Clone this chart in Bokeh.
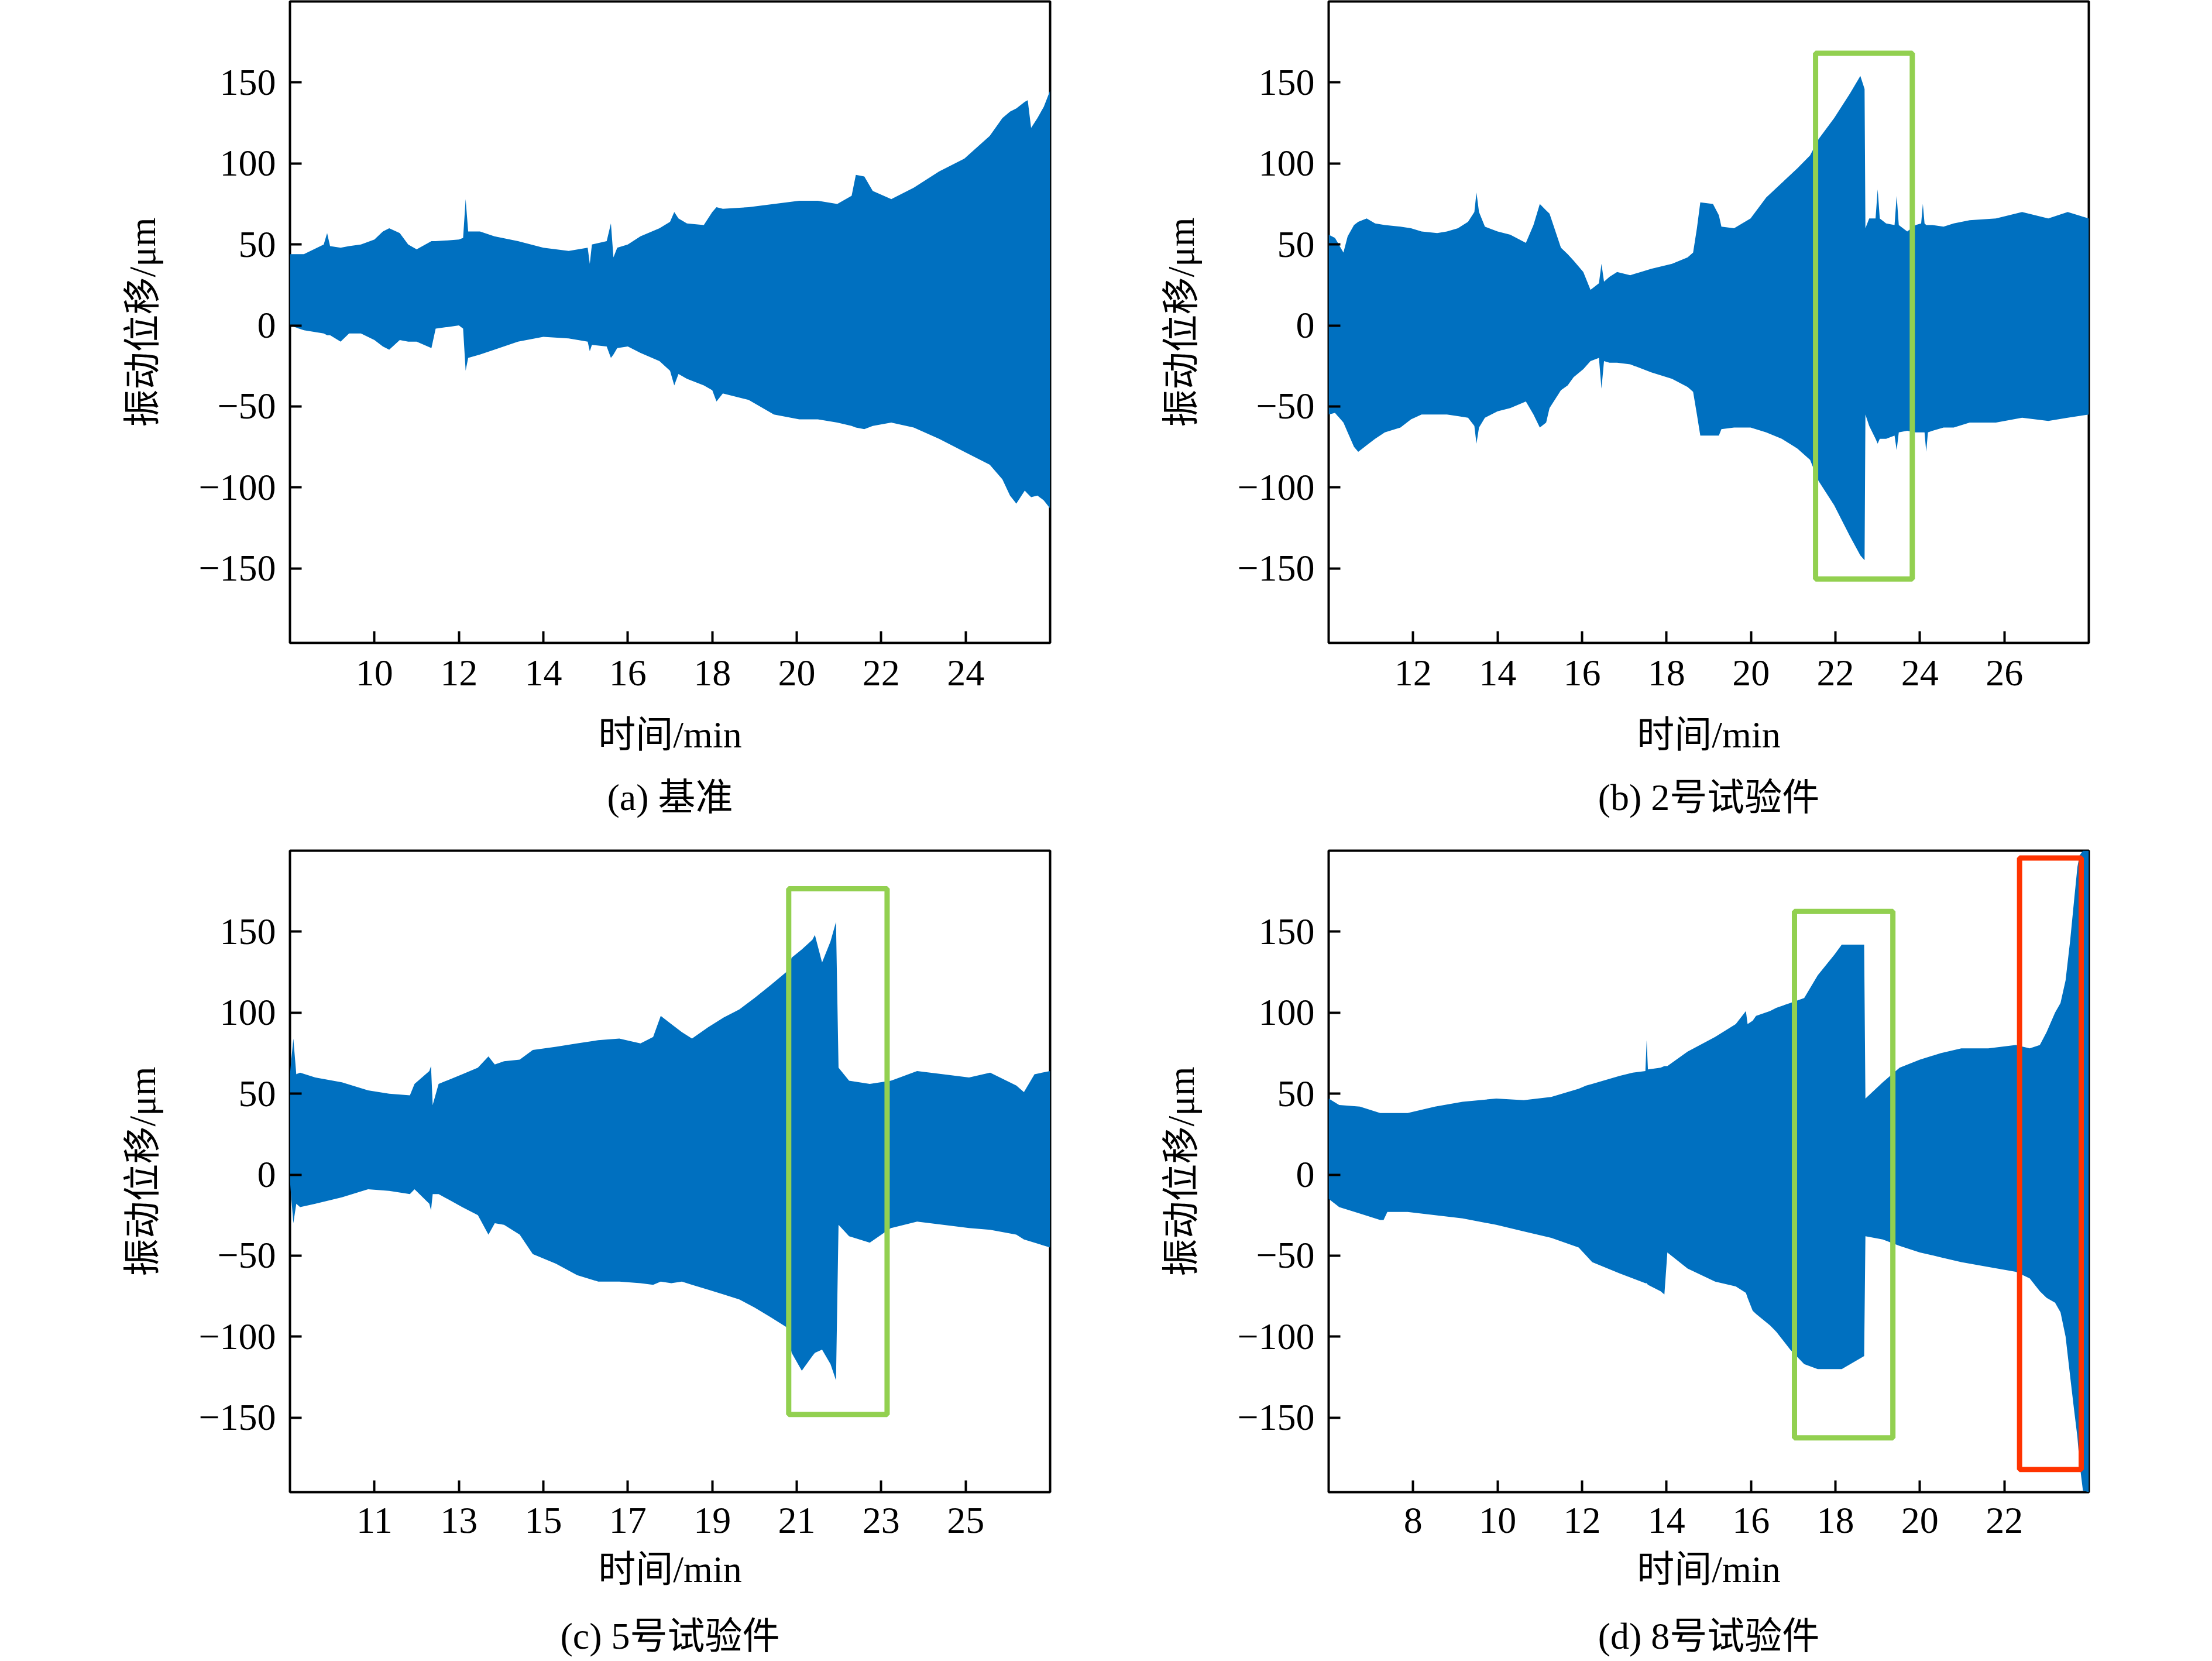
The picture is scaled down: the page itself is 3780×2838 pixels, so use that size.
from bokeh.plotting import figure
from bokeh.layouts import column, row
from bokeh.models import Range1d, FixedTicker
from bokeh.core.properties import value
from bokeh.embed import file_html
from bokeh.resources import INLINE

BLUE = "#0070C0"
GREEN = "#92D050"
RED = "#FF3300"
SERIF = "'Liberation Serif'"
MIXED = "'Liberation Serif', 'Noto Sans CJK SC'"
FS = "64px"

Y_TICKS = [-150, -100, -50, 0, 50, 100, 150]
Y_MIN, Y_MAX = -196, 200
X_LABEL = "时间/min"
Y_LABEL = "振动位移/μm"

# ---------------- (a) 基准 ----------------
A_T = [8.00, 8.33, 8.80, 8.88, 8.95, 9.20, 9.40, 9.68, 10.00, 10.20, 10.35, 10.60, 10.80, 11.00, 11.35, 11.45,
       12.00, 12.10, 12.16, 12.22, 12.50, 12.84, 13.40, 14.00, 14.60, 15.05, 15.10, 15.15, 15.50, 15.60, 15.66,
       15.75, 16.00, 16.30, 16.75, 17.00, 17.10, 17.20, 17.40, 17.80, 18.00, 18.10, 18.25, 18.86, 19.46, 20.06,
       20.50, 20.96, 21.30, 21.40, 21.60, 21.80, 22.24, 22.77, 23.37, 23.97, 24.57, 24.87, 25.05, 25.20, 25.40,
       25.47, 25.55, 25.70, 25.85, 26.00]
A_UP = [44, 44, 50, 57, 49, 48, 49, 50, 53, 58, 60, 57, 50, 47, 52, 52,
        53, 54, 78, 58, 58, 55, 52, 48, 46, 48, 38, 50, 52, 63, 42,
        48, 50, 55, 60, 64, 70, 66, 63, 62, 70, 73, 72, 73, 75, 77,
        77, 75, 80, 93, 92, 83, 78, 85, 95, 103, 117, 128, 132, 134, 138,
        139, 122, 128, 135, 145]
A_LO = [0, -3, -5, -6, -6, -10, -5, -5, -9, -13, -15, -9, -10, -10, -14, -2,
        0, -2, -28, -20, -18, -15, -10, -7, -8, -10, -16, -12, -13, -20, -18,
        -14, -13, -17, -22, -28, -37, -30, -33, -37, -40, -47, -42, -46, -55, -58,
        -58, -60, -62, -63, -64, -62, -60, -63, -70, -78, -86, -95, -105, -110, -102,
        -104, -106, -105, -108, -113]

# ---------------- (b) 2号试验件 ----------------
B_T = [10.00, 10.15, 10.35, 10.45, 10.60, 10.70, 10.90, 11.10, 11.33, 11.70, 11.95, 12.20, 12.57, 12.80, 13.06,
       13.30, 13.45, 13.50, 13.56, 13.70, 14.00, 14.30, 14.67, 14.85, 15.00, 15.15, 15.23, 15.50, 15.66, 15.80,
       16.03, 16.20, 16.40, 16.46, 16.52, 16.65, 16.83, 17.14, 17.64, 18.13, 18.50, 18.63, 18.72, 18.80, 19.10,
       19.24, 19.30, 19.60, 19.99, 20.36, 20.73, 21.10, 21.40, 21.60, 21.97, 22.34, 22.59, 22.69, 22.71, 22.80,
       22.95, 23.00, 23.05, 23.20, 23.40, 23.45, 23.50, 23.70, 23.90, 24.03, 24.07, 24.11, 24.15, 24.19, 24.30,
       24.56, 24.80, 25.18, 25.80, 26.42, 27.04, 27.50, 28.00]
B_UP = [56, 54, 45, 55, 62, 64, 66, 63, 62, 61, 60, 58, 57, 58, 60,
        64, 70, 82, 70, 61, 58, 56, 51, 62, 75, 71, 69, 48, 44, 40,
        33, 22, 26, 38, 27, 30, 33, 31, 35, 38, 42, 45, 60, 76, 75,
        68, 61, 60, 66, 79, 88, 97, 105, 115, 128, 143, 154, 146, 60, 66,
        66, 84, 66, 63, 62, 80, 62, 58, 62, 63, 75, 63, 62, 62, 62,
        61, 63, 65, 66, 70, 66, 70, 66]
B_LO = [-55, -54, -60, -66, -75, -78, -74, -70, -66, -63, -58, -55, -55, -55, -56,
        -57, -62, -73, -63, -57, -53, -51, -47, -55, -63, -60, -51, -40, -37, -32,
        -27, -22, -20, -39, -22, -23, -23, -24, -29, -33, -38, -41, -55, -68, -68,
        -68, -64, -63, -63, -66, -70, -76, -83, -96, -111, -130, -142, -145, -55, -62,
        -70, -73, -70, -70, -68, -77, -66, -65, -66, -66, -66, -66, -78, -66, -65,
        -63, -63, -60, -60, -57, -59, -57, -55]

# ---------------- (c) 5号试验件 ----------------
C_T = [9.00, 9.08, 9.15, 9.24, 9.60, 10.23, 10.85, 11.35, 11.84, 11.95, 12.30, 12.34, 12.38, 12.52, 13.08,
       13.45, 13.70, 13.85, 14.07, 14.44, 14.75, 15.30, 15.80, 16.30, 16.80, 17.30, 17.60, 17.78, 18.03, 18.28,
       18.52, 18.90, 19.27, 19.64, 20.00, 20.38, 20.75, 20.88, 21.12, 21.37, 21.43, 21.60, 21.80, 21.93, 21.99,
       22.24, 22.73, 23.23, 23.85, 24.47, 25.08, 25.58, 26.20, 26.38, 26.63, 27.00]
C_UP = [62, 84, 62, 63, 60, 57, 52, 50, 49, 56, 64, 67, 43, 56, 62,
        66, 73, 68, 70, 71, 77, 79, 81, 83, 84, 81, 85, 98, 93, 88,
        84, 91, 97, 102, 109, 117, 125, 134, 139, 145, 148, 131, 144, 156, 66,
        58, 56, 58, 64, 62, 60, 63, 55, 51, 62, 64]
C_LO = [-4, -30, -18, -20, -18, -14, -9, -10, -12, -9, -18, -22, -12, -12, -20,
        -25, -37, -30, -31, -37, -49, -55, -62, -66, -66, -67, -68, -66, -67, -66,
        -68, -71, -74, -77, -82, -88, -94, -110, -121, -112, -110, -108, -117, -127, -31,
        -38, -42, -33, -29, -31, -33, -34, -37, -40, -42, -45]

# ---------------- (d) 8号试验件 ----------------
D_T = [6.00, 6.25, 6.74, 7.22, 7.30, 7.39, 7.87, 8.52, 9.17, 9.97, 10.62, 11.27, 11.92, 12.10, 12.24,
       12.89, 13.20, 13.50, 13.53, 13.56, 13.86, 13.95, 14.02, 14.50, 15.15, 15.64, 15.88, 15.92, 16.04, 16.12,
       16.45, 16.60, 16.93, 17.26, 17.58, 17.98, 18.15, 18.68, 18.71, 19.12, 19.52, 20.00, 20.49, 20.98, 21.62,
       22.27, 22.60, 22.84, 23.00, 23.20, 23.33, 23.45, 23.56, 23.65, 23.73, 23.78, 23.86, 24.00]
D_UP = [47, 43, 42, 38, 38, 38, 38, 42, 45, 47, 46, 48, 53, 55, 56,
        61, 63, 64, 83, 65, 66, 67, 67, 76, 85, 93, 101, 93, 95, 98,
        101, 103, 106, 109, 123, 136, 142, 142, 47, 57, 66, 71, 75, 78, 78,
        80, 78, 80, 88, 100, 106, 120, 145, 169, 190, 197, 200, 200]
D_LO = [-15, -20, -24, -28, -28, -23, -23, -25, -27, -31, -35, -39, -45, -50, -54,
        -61, -64, -67, -67, -68, -72, -74, -48, -58, -66, -69, -73, -76, -84, -86,
        -93, -97, -108, -117, -120, -120, -120, -112, -38, -40, -44, -48, -51, -54, -57,
        -60, -64, -72, -76, -79, -85, -100, -125, -145, -162, -178, -195, -196]

# highlight boxes: left, right, bottom, top
B_BOX = [21.53, 23.82, -156.5, 168.0]
C_BOX = [20.81, 23.14, -148.0, 176.5]
D_BOX_G = [17.03, 19.36, -162.5, 162.5]
D_BOX_R = [22.36, 23.82, -182.0, 195.5]

FRAME_W = 1299
FRAME_H = 1096


def panel(t, up, lo, xr, xticks, width, height, bl, br, bt, bb, boxes, tick_standoff, label_standoff):
    p = figure(width=width, height=height, x_range=Range1d(*xr), y_range=Range1d(Y_MIN, Y_MAX),
               output_backend="svg", toolbar_location=None,
               min_border_left=bl, min_border_right=br, min_border_top=bt, min_border_bottom=bb)
    p.varea(x=t, y1=lo, y2=up, fill_color=BLUE, fill_alpha=1.0)
    for box, col in boxes:
        p.quad(left=[box[0]], right=[box[1]], bottom=[box[2]], top=[box[3]],
               fill_color=None, line_color=col, line_width=9)
    p.grid.visible = False
    p.outline_line_color = "black"
    p.outline_line_width = 4
    p.outline_line_alpha = 1.0
    p.background_fill_color = "white"
    p.border_fill_color = "white"
    p.xaxis.ticker = FixedTicker(ticks=xticks)
    p.yaxis.ticker = FixedTicker(ticks=Y_TICKS)
    p.yaxis.major_label_overrides = {v: ("\u2212%d" % -v if v < 0 else "%d" % v) for v in Y_TICKS}
    p.xaxis.axis_label = X_LABEL
    p.yaxis.axis_label = Y_LABEL
    for ax in (p.xaxis[0], p.yaxis[0]):
        ax.axis_line_color = None
        ax.major_tick_in = 20
        ax.major_tick_out = 0
        ax.major_tick_line_width = 4
        ax.major_tick_line_color = "black"
        ax.minor_tick_line_color = None
        ax.major_label_text_font = SERIF
        ax.major_label_text_font_size = FS
        ax.major_label_text_color = "black"
        ax.axis_label_text_font = MIXED
        ax.axis_label_text_font_size = FS
        ax.axis_label_text_font_style = "normal"
        ax.axis_label_text_color = "black"
    p.xaxis.major_label_standoff = tick_standoff
    p.xaxis.axis_label_standoff = label_standoff
    p.yaxis.major_label_standoff = 24
    p.yaxis.axis_label_standoff = 57
    return p


def caption_fig(width, height, cx, base_y, caption):
    f = figure(width=width, height=height, x_range=Range1d(0, width), y_range=Range1d(0, height),
               output_backend="svg", toolbar_location=None, min_border=0,
               x_axis_type=None, y_axis_type=None)
    f.outline_line_color = None
    f.background_fill_color = "white"
    f.border_fill_color = "white"
    f.text(x=[cx], y=[base_y], text=[caption], text_font=value(MIXED), text_font_size=value(FS),
           text_align="center", text_baseline="alphabetic", text_color="black")
    return f


LEFT_A, LEFT_B = 495, 370
W_A, W_B = 1900, 1769

# row 1: plots 0 .. 1310, captions 1310 .. 1420
pa = panel(A_T, A_UP, A_LO, (8, 26), [10, 12, 14, 16, 18, 20, 22, 24],
           W_A, 1310, LEFT_A, W_A - LEFT_A - FRAME_W, 2, 212, [], 30, 46)
pb = panel(B_T, B_UP, B_LO, (10, 28), [12, 14, 16, 18, 20, 22, 24, 26],
           W_B, 1310, LEFT_B, W_B - LEFT_B - FRAME_W, 2, 212, [(B_BOX, GREEN)], 30, 46)
ca = caption_fig(W_A, 110, LEFT_A + FRAME_W / 2, 58, "(a) 基准")
cb = caption_fig(W_B, 110, LEFT_B + FRAME_W / 2, 58, "(b) 2号试验件")

# row 2: plots 1420 .. 2734, captions 2734 .. 2836
pc = panel(C_T, C_UP, C_LO, (9, 27), [11, 13, 15, 17, 19, 21, 23, 25],
           W_A, 1314, LEFT_A, W_A - LEFT_A - FRAME_W, 33, 185, [(C_BOX, GREEN)], 27, 24)
pd = panel(D_T, D_UP, D_LO, (6, 24), [8, 10, 12, 14, 16, 18, 20, 22],
           W_B, 1314, LEFT_B, W_B - LEFT_B - FRAME_W, 33, 185, [(D_BOX_G, GREEN), (D_BOX_R, RED)], 27, 24)
cc = caption_fig(W_A, 102, LEFT_A + FRAME_W / 2, 41, "(c) 5号试验件")
cd = caption_fig(W_B, 102, LEFT_B + FRAME_W / 2, 41, "(d) 8号试验件")

layout = column(row(pa, pb), row(ca, cb), row(pc, pd), row(cc, cd))
open("out.html", "w").write(file_html(layout, INLINE))
